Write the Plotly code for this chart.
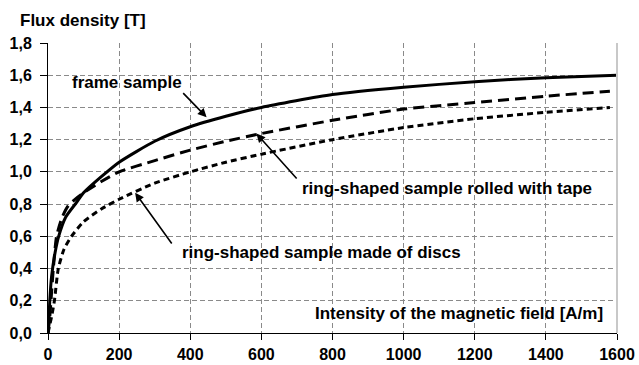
import plotly.graph_objects as go

# Magnetisation curves B(H) for three sample types
h_frame = [0, 3, 5, 10, 20, 30, 50, 80, 100, 150, 200, 300, 400, 500, 600, 800, 1000, 1200, 1400, 1600]
b_frame = [0, 0.1, 0.2, 0.35, 0.5, 0.6, 0.72, 0.81, 0.87, 0.97, 1.06, 1.19, 1.28, 1.345, 1.40, 1.48, 1.525, 1.56, 1.585, 1.60]

h_tape = [0, 5, 10, 15, 24, 40, 57, 76, 100, 150, 200, 300, 400, 500, 600, 800, 1000, 1200, 1400, 1580]
b_tape = [0, 0.1, 0.25, 0.4, 0.6, 0.72, 0.79, 0.83, 0.87, 0.94, 1.0, 1.07, 1.135, 1.19, 1.238, 1.32, 1.39, 1.43, 1.47, 1.50]

h_discs = [0, 5, 10, 18, 29, 45, 66, 100, 150, 200, 300, 400, 500, 600, 800, 1000, 1200, 1400, 1580]
b_discs = [0, 0.05, 0.1, 0.2, 0.4, 0.52, 0.6, 0.69, 0.77, 0.83, 0.93, 1.0, 1.06, 1.11, 1.2, 1.275, 1.33, 1.37, 1.40]

x_ticks = [0, 200, 400, 600, 800, 1000, 1200, 1400, 1600]
y_ticks = [0.0, 0.2, 0.4, 0.6, 0.8, 1.0, 1.2, 1.4, 1.6, 1.8]
y_tick_text = [f"{v:.1f}".replace(".", ",") for v in y_ticks]

FONT = "Liberation Sans, Arial, sans-serif"

fig = go.Figure()
fig.add_trace(go.Scatter(x=h_frame, y=b_frame, mode="lines", name="frame sample",
                         line=dict(color="black", width=3, shape="spline", smoothing=0.6)))
fig.add_trace(go.Scatter(x=h_tape, y=b_tape, mode="lines", name="ring-shaped sample rolled with tape",
                         line=dict(color="black", width=3, dash="11px,6px", shape="spline", smoothing=0.6)))
fig.add_trace(go.Scatter(x=h_discs, y=b_discs, mode="lines", name="ring-shaped sample made of discs",
                         line=dict(color="black", width=3, dash="6px,4px", shape="spline", smoothing=0.6)))

grid_col = "#8a8a8a"
tick_font = dict(family=FONT, size=16, color="black", weight="bold")
fig.update_xaxes(range=[0, 1600], tickvals=x_ticks, ticktext=[str(v) for v in x_ticks],
                 showgrid=True, gridcolor=grid_col, griddash="5px,3px", gridwidth=1,
                 showline=True, linecolor="black", linewidth=1,
                 ticks="outside", ticklen=6, tickcolor="black", ticklabelstandoff=1,
                 tickfont=tick_font, zeroline=False, fixedrange=True, automargin=False)
fig.update_yaxes(range=[0, 1.8], tickvals=y_ticks, ticktext=y_tick_text,
                 showgrid=True, gridcolor=grid_col, griddash="5px,3px", gridwidth=1,
                 showline=True, linecolor="black", linewidth=1,
                 ticks="outside", ticklen=7, tickcolor="black", ticklabelstandoff=5,
                 tickfont=tick_font, zeroline=False, fixedrange=True, automargin=False)

lab_font = dict(family=FONT, size=17, color="black", weight="bold")
annotations = [
    dict(text="Flux density [T]", xref="paper", yref="paper", x=-0.053, y=1.079,
         xanchor="left", yanchor="middle", showarrow=False, font=lab_font),
    dict(text="Intensity of the magnetic field [A/m]", x=1566, y=0.122,
         xanchor="right", yanchor="middle", showarrow=False, font=lab_font),
    dict(text="frame sample", x=222, y=1.552, xanchor="center", yanchor="middle",
         showarrow=False, font=lab_font),
    dict(text="ring-shaped sample rolled with tape", x=708, y=0.90, xanchor="left",
         yanchor="middle", showarrow=False, font=lab_font),
    dict(text="ring-shaped sample made of discs", x=371, y=0.498, xanchor="left",
         yanchor="middle", showarrow=False, font=lab_font),
]
# pointer arrows from the labels to the curves
for tip, tail in [((446, 1.339), (376, 1.498)),
                  ((586, 1.238), (703, 0.950)),
                  ((245, 0.871), (351, 0.546))]:
    annotations.append(dict(text="", x=tip[0], y=tip[1], ax=tail[0], ay=tail[1],
                            xref="x", yref="y", axref="x", ayref="y",
                            showarrow=True, arrowhead=2, arrowsize=1.1,
                            arrowwidth=1.6, arrowcolor="black", standoff=0))

fig.update_layout(
    width=639, height=365,
    margin=dict(l=48, r=22, t=43, b=32, autoexpand=False),
    paper_bgcolor="white", plot_bgcolor="white",
    showlegend=False,
    annotations=annotations,
    shapes=[dict(type="line", xref="paper", yref="paper", x0=1, x1=1, y0=0, y1=1,
                 line=dict(color="#c8c8c8", width=2))],
)

fig.write_html("out.html")
